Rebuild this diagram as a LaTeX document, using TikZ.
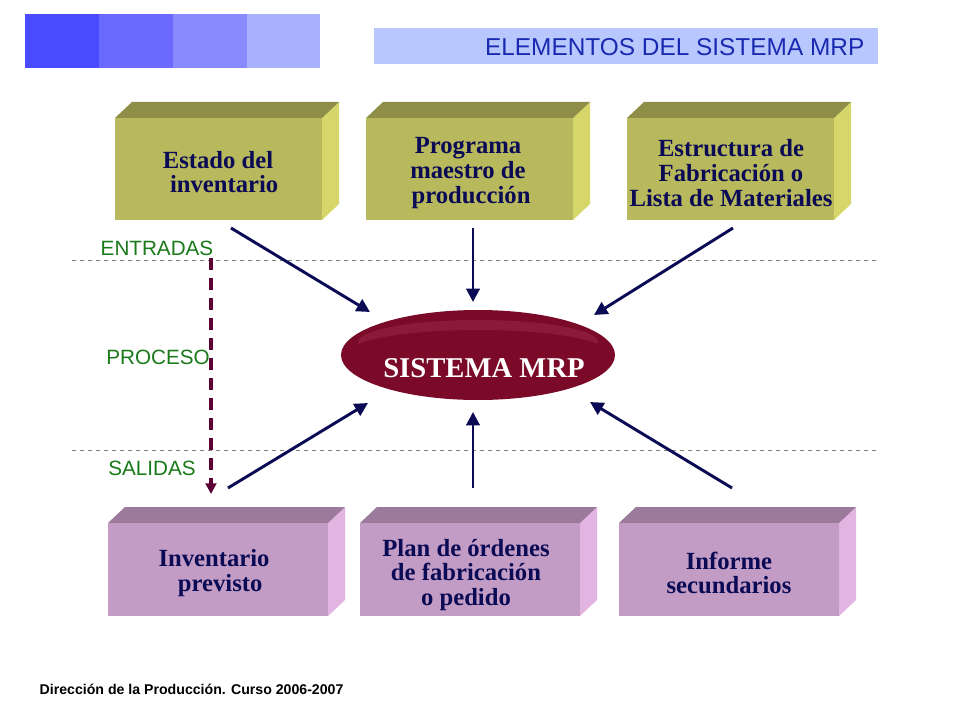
\documentclass[tikz,border=0pt]{standalone}
\usepackage{fontspec}
\setmainfont{Liberation Serif}
\setsansfont{Liberation Sans}
\usetikzlibrary{arrows.meta}
\definecolor{olfront}{HTML}{B8B85C}
\definecolor{oltop}{HTML}{8E8E48}
\definecolor{olside}{HTML}{D6D66A}
\definecolor{pufront}{HTML}{C29CC4}
\definecolor{putop}{HTML}{9C7A9C}
\definecolor{puside}{HTML}{E2B4E2}
\definecolor{navy}{HTML}{0A0A55}
\definecolor{maroon}{HTML}{7A0A28}
\definecolor{maroonhi}{HTML}{8A1A38}
\definecolor{darrow}{HTML}{5A0035}
\definecolor{titleblue}{HTML}{1A2AB0}
\definecolor{lbl}{HTML}{1A7A1A}
\definecolor{sqa}{HTML}{4A4AFF}
\definecolor{sqb}{HTML}{6A6AFF}
\definecolor{sqc}{HTML}{8A8AFF}
\definecolor{sqd}{HTML}{A8B2FF}
\definecolor{tbar}{HTML}{B8C8FF}
\tikzset{
 boxtxt/.style={font=\bfseries\fontsize{18.5}{18.5}\selectfont, text=navy, align=center},
 sidelbl/.style={font=\sffamily\fontsize{15.5}{15.5}\selectfont, text=lbl},
 arr/.style={navy, line width=2.2pt, -{Triangle[length=10pt,width=10pt]}},
 sep/.style={gray, dashed, line width=0.6pt}
}
\newcommand{\blockbox}[7]{% x1 y1 x2 y2 front top side
 \fill[#7] (#3,#2) -- (#3+17,#2-16) -- (#3+17,#4-16) -- (#3,#4) -- cycle;
 \fill[#6] (#1,#2) -- (#1+17,#2-16) -- (#3+17,#2-16) -- (#3,#2) -- cycle;
 \fill[#5] (#1,#2) rectangle (#3,#4);
}
\begin{document}
\begin{tikzpicture}[x=0.75pt,y=-0.75pt]
\useasboundingbox (0,0) rectangle (960,720);
\fill[white] (0,0) rectangle (960,720);
% header squares
\fill[sqa] (25,14) rectangle (99,68);
\fill[sqb] (99,14) rectangle (173,68);
\fill[sqc] (173,14) rectangle (247,68);
\fill[sqd] (247,14) rectangle (320,68);
\fill[tbar] (374,28) rectangle (878,64);
\node[anchor=east, font=\sffamily\fontsize{18.3}{18.3}\selectfont, text=titleblue] (title) at (869,47) {ELEMENTOS DEL SISTEMA MRP};
% separators
\draw[sep] (72,260) -- (876,260);
\draw[sep] (72,450) -- (876,450);
% blocks
\blockbox{115}{118}{322}{220}{olfront}{oltop}{olside}
\blockbox{366}{118}{573}{220}{olfront}{oltop}{olside}
\blockbox{627}{118}{834}{220}{olfront}{oltop}{olside}
\blockbox{108}{523}{328}{616}{pufront}{putop}{puside}
\blockbox{360}{523}{580}{616}{pufront}{putop}{puside}
\blockbox{619}{523}{839}{616}{pufront}{putop}{puside}
\node[boxtxt] (b1) at (218,172) {Estado del\\\ \ inventario};
\node[boxtxt] (b2) at (468,173) {Programa\\maestro de\\\ producción};
\node[boxtxt] (b3) at (731,173) {Estructura de\\Fabricación o\\Lista de Materiales};
\node[boxtxt] (b4) at (214,573) {Inventario\\\ \ previsto};
\node[boxtxt] (b5) at (466,575) {Plan de órdenes\\de fabricación\\o pedido};
\node[boxtxt] (b6) at (729,573) {Informe\\secundarios};
% ellipse
\fill[maroon] (478,355) ellipse (137 and 45);
\fill[maroonhi] (478,342) ellipse (120 and 22);
\fill[maroon] (478,352) ellipse (128 and 22);
\node[text=white, font=\bfseries\fontsize{21.5}{21.5}\selectfont] (mrp) at (484,368) {SISTEMA MRP};
% labels
\node[sidelbl] (l1) at (157,248) {ENTRADAS};
\node[sidelbl] (l2) at (158,357) {PROCESO};
\node[sidelbl] (l3) at (152,468) {SALIDAS};
\coordinate (d1) at (211,258);
\coordinate (d2) at (211,494);
\draw[darrow, line width=2.5pt, dash pattern=on 9pt off 6pt, -{Triangle[length=8pt,width=8pt]}] (d1) -- (d2);
% arrows
\coordinate (a1) at (231,228); \coordinate (e1) at (370,312);
\coordinate (a2) at (473,228); \coordinate (e2) at (473,302);
\coordinate (a3) at (733,228); \coordinate (e3) at (594,315);
\coordinate (a4) at (228,488); \coordinate (e4) at (368,403);
\coordinate (a5) at (473,488); \coordinate (e5) at (473,412);
\coordinate (a6) at (732,488); \coordinate (e6) at (590,402);
\draw[arr] (a1) -- (e1);
\draw[arr] (a2) -- (e2);
\draw[arr] (a3) -- (e3);
\draw[arr] (a4) -- (e4);
\draw[arr] (a5) -- (e5);
\draw[arr] (a6) -- (e6);
\node[anchor=west, font=\sffamily\bfseries\fontsize{10.6}{10.6}\selectfont] (foot) at (35,689) {Dirección de la Producción. Curso 2006-2007};
\end{tikzpicture}
\end{document}
